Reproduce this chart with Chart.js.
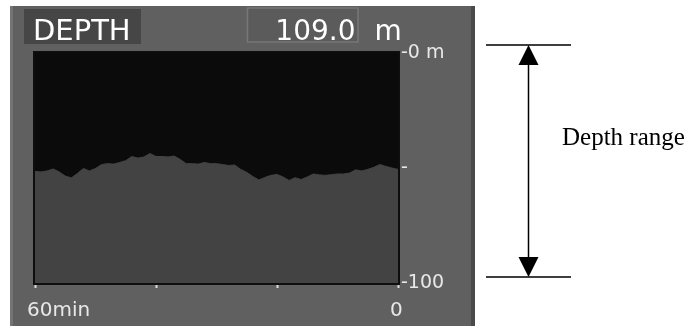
<!DOCTYPE html>
<html>
<head>
<meta charset="utf-8">
<script src="https://cdn.jsdelivr.net/npm/chart.js@4/dist/chart.umd.min.js"></script>
<style>
  html, body { margin: 0; padding: 0; background: #ffffff; }
  #wrap { width: 696px; height: 326px; position: relative; }
  canvas { display: block; }
</style>
</head>
<body>
<div id="wrap"><canvas id="depthChart" width="696" height="326"></canvas></div>
<script>
// Depth history: minutes before now, and sounding depth in metres
const minutesAgo = [60, 59, 58, 57, 56, 55, 54, 53, 52, 51, 50, 49, 48, 47, 46, 45, 44, 43, 42, 41,
                    40, 39, 38, 37, 36, 35, 34, 33, 32, 31, 30, 29, 28, 27, 26, 25, 24, 23, 22, 21,
                    20, 19, 18, 17, 16, 15, 14, 13, 12, 11, 10, 9, 8, 7, 6, 5, 4, 3, 2, 1, 0];
const depthM = [51.5, 51.7, 51.3, 50.4, 51.7, 53.5, 54.3, 52.4, 50.2, 51.3,
                50.2, 48.5, 48.1, 48.3, 47.6, 46.8, 45.0, 45.7, 45.2, 43.7,
                45.0, 45.0, 45.2, 44.8, 46.3, 48.1, 48.1, 48.3, 47.6, 48.1,
                48.1, 48.5, 48.9, 48.7, 50.6, 51.9, 53.7, 55.2, 54.1, 53.2,
                52.8, 53.9, 55.4, 54.2, 55.0, 53.9, 52.6, 53.0, 53.2, 52.9,
                52.6, 52.6, 52.2, 50.8, 51.3, 50.6, 49.7, 48.5, 49.3, 50.0, 50.6];

// Axis ranges and tick labels
const timeRange = [0, 60];
const timeStep = 20;
const timeTickLabels = { 60: '60min', 0: '0' };
const depthRange = [0, 100];
const depthStep = 50;
const depthTickLabels = { 0: '-0 m', 50: '-', 100: '-100' };

// Header texts
const gaugeTitle = 'DEPTH';
const currentDepth = '109.0';
const depthUnit = 'm';
const rangeLabel = 'Depth range';

const PANEL = '#606060';
const TEXT = '#e8e8e8';

const points = minutesAgo.map((m, i) => ({ x: m, y: depthM[i] }));

// Instrument panel, header boxes and the plot background
const panelPlugin = {
  id: 'panel',
  beforeDraw(chart) {
    const { ctx, chartArea: a } = chart;
    ctx.save();
    ctx.fillStyle = '#ffffff';
    ctx.fillRect(0, 0, chart.width, chart.height);
    // panel body
    ctx.fillStyle = PANEL;
    ctx.fillRect(10, 6, 465, 320);
    ctx.fillStyle = '#747474';
    ctx.fillRect(10, 6, 3, 320);
    ctx.fillStyle = '#4a4a4a';
    ctx.fillRect(471, 6, 4, 320);
    // title box
    ctx.fillStyle = '#464646';
    ctx.fillRect(24, 9, 117, 35);
    ctx.fillStyle = '#ffffff';
    ctx.font = '29px "DejaVu Sans"';
    ctx.textBaseline = 'alphabetic';
    ctx.textAlign = 'left';
    ctx.fillText(gaugeTitle, 33, 39.5);
    // value box
    ctx.fillStyle = '#5b5b5b';
    ctx.fillRect(247, 7.5, 111, 35);
    ctx.strokeStyle = '#777777';
    ctx.lineWidth = 1.5;
    ctx.strokeRect(247.5, 8, 110.5, 34);
    ctx.fillStyle = '#ffffff';
    ctx.font = '28px "DejaVu Sans"';
    ctx.textAlign = 'right';
    ctx.fillText(currentDepth, 355.5, 39.5);
    ctx.textAlign = 'left';
    ctx.fillText(depthUnit, 374.5, 39.5);
    // plot background
    ctx.fillStyle = '#0b0b0b';
    ctx.fillRect(a.left, a.top, a.right - a.left, a.bottom - a.top);
    ctx.restore();
  },
  afterDraw(chart) {
    const { ctx, chartArea: a } = chart;
    ctx.save();
    // plot frame
    ctx.strokeStyle = '#0e0e0e';
    ctx.lineWidth = 2;
    ctx.strokeRect(a.left - 1, a.top - 1, a.right - a.left + 2, a.bottom - a.top + 2);
    // range dimension marker
    const top = a.top - 8, bottom = a.bottom - 6, cx = 528.5;
    ctx.strokeStyle = '#000000';
    ctx.fillStyle = '#000000';
    ctx.lineWidth = 1.5;
    ctx.beginPath();
    ctx.moveTo(486, top); ctx.lineTo(571, top);
    ctx.moveTo(486, bottom); ctx.lineTo(571, bottom);
    ctx.moveTo(cx, top + 10); ctx.lineTo(cx, bottom - 10);
    ctx.stroke();
    ctx.beginPath();
    ctx.moveTo(cx, top); ctx.lineTo(cx - 10, top + 20); ctx.lineTo(cx + 10, top + 20); ctx.closePath();
    ctx.moveTo(cx, bottom); ctx.lineTo(cx - 10, bottom - 20); ctx.lineTo(cx + 10, bottom - 20); ctx.closePath();
    ctx.fill();
    ctx.font = '25px "Liberation Serif"';
    ctx.textAlign = 'left';
    ctx.textBaseline = 'alphabetic';
    ctx.fillText(rangeLabel, 562, 145);
    ctx.restore();
  }
};

new Chart(document.getElementById('depthChart'), {
  type: 'line',
  data: {
    datasets: [{
      data: points,
      fill: { value: depthRange[1] },
      backgroundColor: '#434343',
      borderColor: '#434343',
      borderWidth: 1,
      pointRadius: 0,
      tension: 0
    }]
  },
  options: {
    responsive: false,
    animation: false,
    devicePixelRatio: 1,
    layout: { padding: { left: 35, top: 53, right: 0, bottom: 0 } },
    plugins: { legend: { display: false }, tooltip: { enabled: false } },
    scales: {
      x: {
        type: 'linear',
        reverse: true,
        min: timeRange[0],
        max: timeRange[1],
        afterFit(scale) { scale.height = 43; },
        border: { display: false },
        grid: {
          drawOnChartArea: false,
          drawTicks: true,
          tickLength: 9,
          tickWidth: 2,
          tickColor: '#dcdcdc',
          tickBorderDash: [5, 50]
        },
        ticks: {
          stepSize: timeStep,
          autoSkip: false,
          maxRotation: 0,
          align: 'start',
          labelOffset: -8,
          padding: 7,
          color: TEXT,
          font: { family: 'DejaVu Sans', size: 20 },
          callback: v => (timeTickLabels[v] !== undefined ? timeTickLabels[v] : '')
        }
      },
      y: {
        type: 'linear',
        position: 'right',
        reverse: true,
        min: depthRange[0],
        max: depthRange[1],
        afterFit(scale) { scale.width = 298; },
        border: { display: false },
        grid: { drawOnChartArea: false, drawTicks: false },
        ticks: {
          stepSize: depthStep,
          padding: 3,
          color: TEXT,
          font: { family: 'DejaVu Sans', size: 19 },
          callback: v => (depthTickLabels[v] !== undefined ? depthTickLabels[v] : '')
        }
      }
    }
  },
  plugins: [panelPlugin]
});
</script>
</body>
</html>
